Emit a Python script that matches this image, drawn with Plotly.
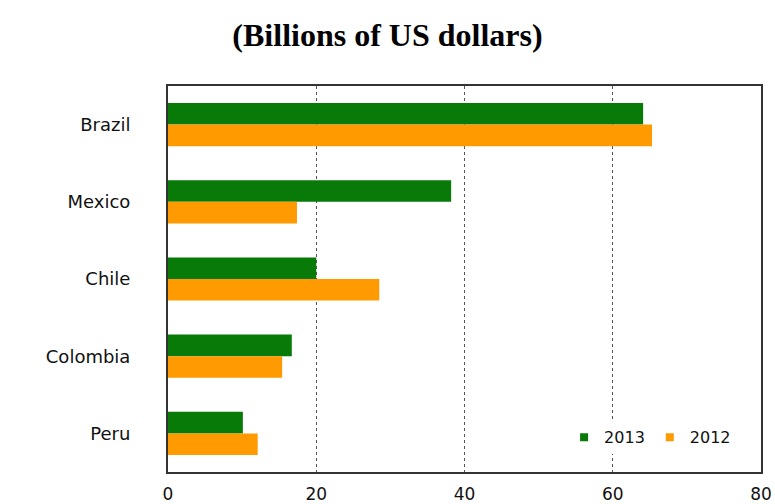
import plotly.graph_objects as go

countries = ["Brazil", "Mexico", "Chile", "Colombia", "Peru"]
values_2013 = [64.1, 38.2, 20.0, 16.7, 10.1]
values_2012 = [65.3, 17.4, 28.5, 15.4, 12.1]
x_ticks = [0, 20, 40, 60, 80]

GREEN = "#077a07"
ORANGE = "#ff9a00"

fig = go.Figure()
fig.add_trace(go.Bar(y=countries, x=values_2013, orientation="h", name="2013",
                     marker=dict(color=GREEN, line=dict(width=0)), showlegend=False))
fig.add_trace(go.Bar(y=countries, x=values_2012, orientation="h", name="2012",
                     marker=dict(color=ORANGE, line=dict(width=0)), showlegend=False))

# small square legend keys
for name, col in [("2013", GREEN), ("2012", ORANGE)]:
    fig.add_trace(go.Scatter(x=[None], y=[None], mode="markers", name=name,
                             marker=dict(symbol="square", size=8, color=col)))

fig.update_layout(
    width=775, height=504,
    margin=dict(l=168, r=14, t=86, b=32),
    paper_bgcolor="white", plot_bgcolor="white",
    barmode="group", bargap=0.44, bargroupgap=0,
    title=dict(text="<b>(Billions of US dollars)</b>", x=0.5, xanchor="center",
               y=1 - 35 / 504, yanchor="middle",
               font=dict(family="Liberation Serif", size=32, color="black")),
    legend=dict(orientation="h", x=0.958, xanchor="right", y=0.09, yanchor="middle",
                bgcolor="white", borderwidth=0, itemwidth=30,
                font=dict(family="DejaVu Sans", size=16, color="#111"),
                traceorder="normal"),
    showlegend=True,
)

fig.update_xaxes(
    range=[0, 80], tickvals=x_ticks, ticktext=[str(v) for v in x_ticks],
    automargin=False,
    showgrid=True, gridcolor="#555", gridwidth=1.4, griddash="dot",
    zeroline=False, showline=True, linecolor="#333", linewidth=2, mirror=True,
    ticks="outside", ticklen=6, tickcolor="rgba(0,0,0,0)",
    tickfont=dict(family="DejaVu Sans", size=17, color="#111"),
)
fig.update_yaxes(
    autorange="reversed", showgrid=False, zeroline=False, automargin=False,
    showline=True, linecolor="#333", linewidth=2, mirror=True,
    ticks="outside", ticklen=32, tickcolor="rgba(0,0,0,0)",
    tickfont=dict(family="DejaVu Sans", size=18, color="#111"),
)

fig.write_html("out.html")
